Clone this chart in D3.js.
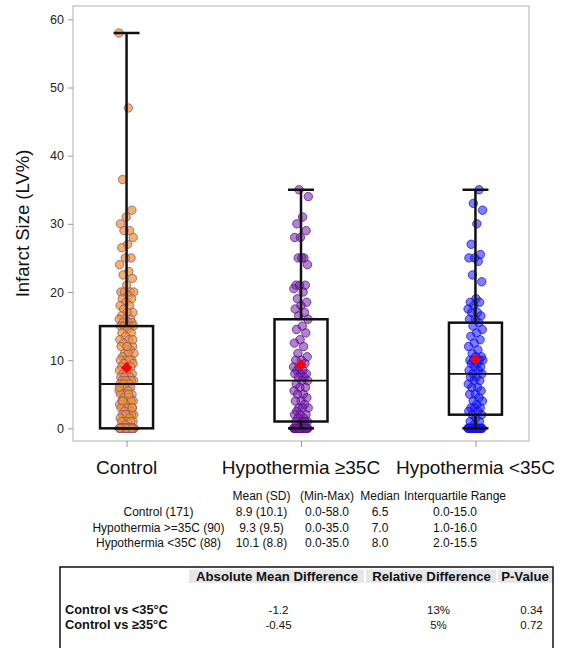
<!DOCTYPE html>
<html><head><meta charset="utf-8">
<script src="https://cdn.jsdelivr.net/npm/d3@7"></script>
<style>
html,body{margin:0;padding:0;background:#fff;}
svg{display:block;}
</style></head>
<body>
<svg id="chart" width="563" height="648"></svg>
<script>
// ---------------- DATA ----------------
const categories = ["Control", "Hypothermia \u226535C", "Hypothermia <35C"];

const controlValues = [
  58, 47, 36.5, 32, 31, 30, 29, 29, 28, 27,
  26.5, 25, 25, 24, 23, 22.5, 22, 21, 20, 20,
  20, 20, 19.5, 19, 19, 18.5, 18, 18, 17.5, 17,
  17, 16.5, 16, 16, 16, 15.5, 15.5, 15.5, 15, 15,
  15, 15, 15,
  14.5, 14, 14, 13.5, 13, 13, 12.5, 12, 12, 12,
  11.5, 11, 11, 11, 10.5, 10, 10, 10, 10, 9.5,
  9.5, 9, 9, 9, 8.5, 8.5, 8, 8, 8, 8,
  7.5, 7.5, 7.5, 7, 7, 7, 7, 7, 6.5, 6.5,
  6.5, 13, 12,
  6, 6, 6, 5.5, 5.5, 5, 5, 5, 5, 4.5,
  4.5, 4, 4, 4, 4, 3.5, 3.5, 3, 3, 3,
  3, 3, 2.5, 2.5, 2, 2, 2, 2, 2, 1.5,
  1.5, 1, 1, 1, 1, 1, 0.5, 6, 5, 4, 3,
  0, 0, 0, 0, 0, 0, 0, 0, 0, 0,
  0, 0, 0, 0, 0, 0, 0, 0, 0, 0,
  0, 0, 0, 0, 0, 0, 0, 0, 0, 0,
  0, 0, 0, 0, 0, 0, 0, 0, 0, 0,
  0, 0, 0, 0
];

const hypoHighValues = [
  35, 34, 31, 30, 29, 28, 28, 25, 25, 24,
  25, 21, 21, 21, 20.5, 20, 19, 18.5, 18, 17.5,
  17, 16.5,
  16, 15, 14.5, 14, 13, 12.5, 12, 11, 10.5, 10,
  10, 9.5, 9, 9, 8.5, 8.5, 8, 8, 8, 7.5,
  7.5, 7, 7,
  6.5, 6, 6, 5.5, 5, 5, 4.5, 4, 4, 3.5,
  3, 3, 3, 2.5, 2, 2, 2, 1.5, 1.5, 1,
  1, 1, 1,
  0, 0, 0, 0, 0, 0, 0, 0, 0, 0,
  0, 0, 0, 0, 0, 0, 0, 0, 0, 0,
  0, 0
];

const hypoLowValues = [
  35, 33, 32, 30, 27, 25.5, 25, 25, 24.5, 22.5,
  21.5, 19, 18.5, 18.5, 18, 17.5, 17, 17, 16.5, 16,
  16, 15.5,
  15, 14.5, 14, 13.5, 13, 12.5, 12, 11.5, 11, 10.5,
  10.5, 10, 10, 10, 10, 9.5, 9.5, 9, 9, 8.5,
  8.5, 8,
  8, 7.5, 7.5, 7, 7, 6.5, 6, 6, 5.5, 5,
  5, 4.5, 4, 4, 3.5, 3, 3, 3, 2.5, 2.5,
  2, 2,
  1.5, 1, 1, 0.5,
  0, 0, 0, 0, 0, 0, 0, 0, 0, 0,
  0, 0, 0, 0, 0, 0, 0, 0
];

const groupValues = [controlValues, hypoHighValues, hypoLowValues];

const means   = [8.9, 9.3, 10.1];
const mins    = [0, 0, 0];
const maxs    = [58, 35, 35];
const medians = [6.5, 7.0, 8.0];
const q1s     = [0, 1, 2];
const q3s     = [15, 16, 15.5];

const yTicks = [0, 10, 20, 30, 40, 50, 60];

const statHeaders = ["Mean (SD)", "(Min-Max)", "Median", "Interquartile Range"];
const statRowLabels = ["Control (171)", "Hypothermia >=35C (90)", "Hypothermia <35C (88)"];
const statMeanSD = ["8.9 (10.1)", "9.3 (9.5)", "10.1 (8.8)"];
const statMinMax = ["0.0-58.0", "0.0-35.0", "0.0-35.0"];
const statMedian = ["6.5", "7.0", "8.0"];
const statIQR = ["0.0-15.0", "1.0-16.0", "2.0-15.5"];

const cmpHeaders = ["Absolute Mean Difference", "Relative Difference", "P-Value"];
const cmpRowLabels = ["Control vs <35\u00B0C", "Control vs \u226535\u00B0C"];
const cmpAbsDiff = ["-1.2", "-0.45"];
const cmpRelDiff = ["13%", "5%"];
const cmpPValue = ["0.34", "0.72"];

// ---------------- STYLE ----------------
const fills   = ["rgb(243,150,40)", "rgb(115,30,165)", "rgb(20,20,255)"];
const fillOp  = [0.72, 0.55, 0.55];
const strokes = ["rgb(125,80,150)", "rgb(90,15,140)", "rgb(20,20,220)"];

// ---------------- CHART ----------------
const svg = d3.select("#chart");
const X0 = 73, X1 = 529, Y0 = 6, Y1 = 441;

const x = d3.scalePoint().domain(categories).range([X0, X1]).padding(0.307);
const y = d3.scaleLinear().domain([-1.86, 61.96]).range([Y1, Y0]);

const font = "Liberation Sans, Arial, sans-serif";

// frame
svg.append("rect").attr("x", X0).attr("y", Y0).attr("width", X1 - X0).attr("height", Y1 - Y0)
  .attr("fill", "none").attr("stroke", "#b0b0b0").attr("stroke-width", 1);

// y axis
const yAxis = d3.axisLeft(y).tickValues(yTicks).tickSize(5).tickPadding(4);
const gy = svg.append("g").attr("transform", `translate(${X0},0)`).call(yAxis);
gy.select(".domain").remove();
gy.selectAll(".tick line").attr("stroke", "#999");
gy.selectAll(".tick text").attr("font-family", font).attr("font-size", 12.5).attr("fill", "#222");

// x axis
const xAxis = d3.axisBottom(x).tickSize(6).tickFormat("");
const gx = svg.append("g").attr("transform", `translate(0,${Y1})`).call(xAxis);
gx.select(".domain").remove();
gx.selectAll(".tick line").attr("stroke", "#999");

// x labels
svg.append("g").selectAll("text").data(categories).join("text")
  .attr("x", d => x(d)).attr("y", 474)
  .attr("text-anchor", "middle")
  .attr("font-family", font).attr("font-size", 19).attr("fill", "#111")
  .text(d => d);

// y label
svg.append("text")
  .attr("transform", `translate(29,${(Y0 + Y1) / 2}) rotate(-90)`)
  .attr("text-anchor", "middle")
  .attr("font-family", font).attr("font-size", 18.5).attr("fill", "#111")
  .text("Infarct Size (LV%)");

// dots
const jitterW = 7.5;
categories.forEach((cat, gi) => {
  const vals = groupValues[gi];
  const cx = x(cat);
  svg.append("g").selectAll("circle").data(vals).join("circle")
    .attr("cx", (d, i) => cx + (((i * 0.6180339887 + gi * 0.37) % 1) - 0.5) * 2 * jitterW)
    .attr("cy", d => y(d))
    .attr("r", 4.2)
    .attr("fill", fills[gi]).attr("fill-opacity", fillOp[gi])
    .attr("stroke", strokes[gi]).attr("stroke-opacity", 0.75).attr("stroke-width", 1);
});

// boxes
const boxW = 53, capW = 26;
categories.forEach((cat, gi) => {
  const cx = x(cat);
  const g = svg.append("g").attr("stroke", "#111").attr("fill", "none");
  g.append("line").attr("x1", cx).attr("x2", cx).attr("y1", y(q3s[gi])).attr("y2", y(maxs[gi])).attr("stroke-width", 2.5);
  g.append("line").attr("x1", cx).attr("x2", cx).attr("y1", y(q1s[gi])).attr("y2", y(mins[gi])).attr("stroke-width", 2.5);
  g.append("line").attr("x1", cx - capW / 2).attr("x2", cx + capW / 2).attr("y1", y(maxs[gi])).attr("y2", y(maxs[gi])).attr("stroke-width", 2.5);
  g.append("line").attr("x1", cx - capW / 2).attr("x2", cx + capW / 2).attr("y1", y(mins[gi])).attr("y2", y(mins[gi])).attr("stroke-width", 2.5);
  g.append("rect").attr("x", cx - boxW / 2).attr("width", boxW)
    .attr("y", y(q3s[gi])).attr("height", y(q1s[gi]) - y(q3s[gi])).attr("stroke-width", 2.5);
  g.append("line").attr("x1", cx - boxW / 2).attr("x2", cx + boxW / 2).attr("y1", y(medians[gi])).attr("y2", y(medians[gi])).attr("stroke-width", 1.8);
  svg.append("path").attr("d", d3.symbol().type(d3.symbolDiamond2).size(80)())
    .attr("transform", `translate(${cx},${y(means[gi])})`)
    .attr("fill", "#ff0000");
});

// ---------------- STATS TEXT TABLE ----------------
const st = svg.append("g").attr("font-family", font).attr("font-size", 12).attr("fill", "#111");
const colX = [261.5, 327, 380, 455];
const labelX = 158.5;
const headY = 496, rowY = [512, 527.5, 543];
statHeaders.forEach((h, i) => st.append("text").attr("x", colX[i]).attr("y", headY).attr("dy", "0.35em").attr("text-anchor", "middle").text(h));
const statCols = [statMeanSD, statMinMax, statMedian, statIQR];
statRowLabels.forEach((lab, r) => {
  st.append("text").attr("x", labelX).attr("y", rowY[r]).attr("dy", "0.35em").attr("text-anchor", "middle").text(lab);
  statCols.forEach((col, c) => st.append("text").attr("x", colX[c]).attr("y", rowY[r]).attr("dy", "0.35em").attr("text-anchor", "middle").text(col[r]));
});

// ---------------- COMPARISON TABLE ----------------
const ct = svg.append("g").attr("font-family", "'Liberation Sans', Arial, sans-serif").attr("fill", "#111");
const hdrX = [[189, 364], [366, 496], [498, 553]];
hdrX.forEach(([a, b]) => ct.append("rect").attr("x", a).attr("y", 569.5).attr("width", b - a).attr("height", 13.5).attr("fill", "#e6e6e9"));
svg.append("rect").attr("x", 60).attr("y", 567).attr("width", 493).attr("height", 95)
  .attr("fill", "none").attr("stroke", "#111").attr("stroke-width", 1.5);
const cmpColX = [277, 431.5, 525];
cmpHeaders.forEach((h, i) => ct.append("text").attr("x", cmpColX[i]).attr("y", 576.5).attr("dy", "0.35em")
  .attr("text-anchor", "middle").attr("font-weight", "bold").attr("font-size", 13.2).text(h));
const cmpRowY = [609.5, 624.5];
const cmpValX = [278.5, 438.5, 531.5];
const cmpCols = [cmpAbsDiff, cmpRelDiff, cmpPValue];
cmpRowLabels.forEach((lab, r) => {
  ct.append("text").attr("x", 65).attr("y", cmpRowY[r]).attr("dy", "0.35em").attr("font-weight", "bold").attr("font-size", 12.8).text(lab);
  cmpCols.forEach((col, c) => ct.append("text").attr("x", cmpValX[c]).attr("y", cmpRowY[r]).attr("dy", "0.35em")
    .attr("text-anchor", "middle").attr("font-size", 11.5).text(col[r]));
});
</script>
</body></html>
